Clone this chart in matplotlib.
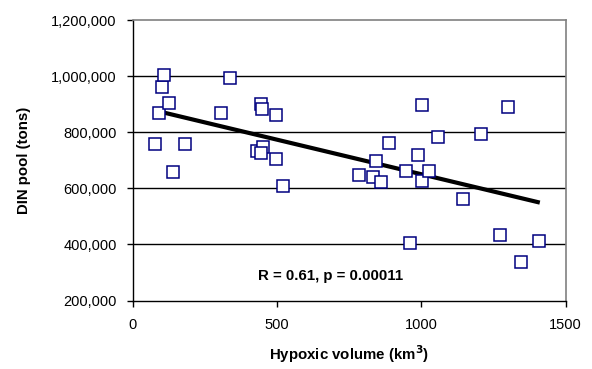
import matplotlib.pyplot as plt
import matplotlib.ticker as mticker
import numpy as np

plt.rcParams['font.family'] = ['Liberation Sans', 'DejaVu Sans']

# hypoxic volume (km3) vs DIN pool (tons)
hyp_vol = [78, 93, 102, 108, 126, 141, 181, 308, 337, 430, 444, 449, 453, 445,
           496, 496, 521, 785, 832, 845, 862, 887, 946, 960, 990, 1004, 1004,
           1028, 1057, 1145, 1208, 1273, 1301, 1345, 1408]
din_pool = [758000, 867000, 962000, 1004000, 903000, 657000, 758000, 868000,
            993000, 733000, 899000, 882000, 748000, 725000, 862000, 703000,
            609000, 648000, 640000, 698000, 624000, 763000, 663000, 404000,
            718000, 898000, 627000, 661000, 783000, 563000, 794000, 432000,
            889000, 338000, 413000]

# regression line end points
trend_x = [80, 1411]
trend_y = [877000, 549000]

fig = plt.figure(figsize=(5.92, 3.69), dpi=100)
ax = fig.add_axes([132.5/592, 1 - 300.5/369, 433/592, 280.5/369])

ax.set_xlim(0, 1500)
ax.set_ylim(200000, 1200000)
ax.set_xticks([0, 500, 1000, 1500])
ax.set_yticks(np.arange(200000, 1200001, 200000))
ax.yaxis.set_major_formatter(mticker.FuncFormatter(lambda v, p: f'{int(v):,}'))

for yv in [400000, 600000, 800000, 1000000]:
    ax.axhline(yv, color='black', lw=1, zorder=1)

ax.plot(trend_x, trend_y, color='black', lw=3, zorder=2, solid_capstyle='butt')
ax.plot(hyp_vol, din_pool, 's', ms=9.3, mfc='white', mec='#000080', mew=1.1,
        zorder=3, clip_on=False)

ax.text(687, 287000, 'R = 0.61, p = 0.00011', ha='center', va='center',
        fontsize=10.8, fontweight='bold')

for s in ['top', 'right']:
    ax.spines[s].set_color('#808080')
    ax.spines[s].set_linewidth(1.2)
for s in ['left', 'bottom']:
    ax.spines[s].set_color('black')
    ax.spines[s].set_linewidth(1)

ax.tick_params(direction='out', length=4, width=1, labelsize=10.5)
ax.tick_params(axis='y', pad=7.5)
ax.tick_params(axis='x', pad=8.5)
ax.set_xlabel('Hypoxic volume (km$^\\mathbf{3}$)', fontsize=10.8, fontweight='bold', labelpad=8)
ax.set_ylabel('DIN pool (tons)', fontsize=10.8, fontweight='bold', labelpad=14)

fig.savefig('out.png', dpi=100)
